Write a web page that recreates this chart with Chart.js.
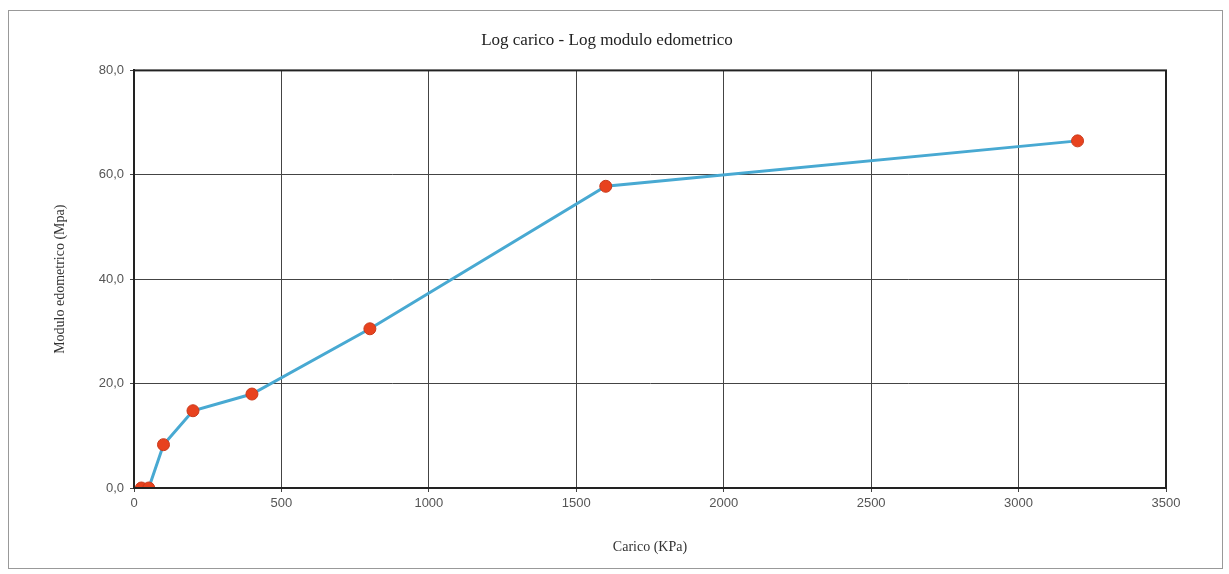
<!DOCTYPE html>
<html>
<head>
<meta charset="utf-8">
<script src="https://cdn.jsdelivr.net/npm/chart.js@4/dist/chart.umd.min.js"></script>
<style>
  body { margin: 0; background: #fff; }
  .frame { position: absolute; left: 8px; top: 10px; width: 1213px; height: 557px; border: 1px solid #999; }
  .wrap { position: absolute; left: 0; top: 0; width: 1229px; height: 574px; }
</style>
</head>
<body>
<div class="frame"></div>
<div class="wrap"><canvas id="chart"></canvas></div>
<script>
// carico (KPa) and modulo edometrico (Mpa)
const carico = [25, 50, 100, 200, 400, 800, 1600, 3200]
const modulo = [0, 0, 8.3, 14.8, 18.0, 30.5, 57.8, 66.5]

const xMin = 0, xMax = 3500, xStep = 500
const yMin = 0, yMax = 80, yStep = 20

const points = carico.map((c, i) => ({ x: c, y: modulo[i] }))

const serif = 'Liberation Serif'
const tickFont = { family: 'Liberation Sans', size: 13 }

let ctx = document.getElementById('chart').getContext('2d')

new Chart(ctx, {
  type: 'scatter',
  data: {
    datasets: [{
      data: points,
      showLine: true,
      borderColor: '#48a9d2',
      borderWidth: 3,
      pointBackgroundColor: '#e8421e',
      pointBorderColor: '#c93a1c',
      pointBorderWidth: 1,
      pointRadius: 6,
      tension: 0
    }]
  },
  options: {
    responsive: true,
    maintainAspectRatio: false,
    animation: false,
    layout: {
      padding: { top: 25, left: 48, right: 63, bottom: 14 }
    },
    plugins: {
      legend: { display: false },
      tooltip: { enabled: false },
      title: {
        display: true,
        text: 'Log carico - Log modulo edometrico',
        color: '#222',
        font: { family: serif, size: 17, weight: 'normal' },
        padding: { top: 5, bottom: 20 }
      }
    },
    scales: {
      x: {
        type: 'linear',
        min: xMin, max: xMax,
        ticks: { stepSize: xStep, color: '#555', font: tickFont, padding: 4,
          callback: v => String(v) },
        grid: { color: '#444', lineWidth: 1, tickLength: 4 },
        border: { color: '#222', width: 2 },
        title: {
          display: true,
          text: 'Carico (KPa)',
          color: '#333',
          font: { family: serif, size: 14 },
          padding: { top: 18 }
        },
        afterFit: s => { s.height = 72 }
      },
      y: {
        min: yMin, max: yMax,
        ticks: {
          stepSize: yStep, color: '#555', font: tickFont, padding: 6,
          callback: v => v.toFixed(1).replace('.', ',')
        },
        grid: { color: '#444', lineWidth: 1, tickLength: 4 },
        border: { color: '#222', width: 2 },
        title: {
          display: true,
          text: 'Modulo edometrico (Mpa)',
          color: '#333',
          font: { family: serif, size: 14 },
          padding: { bottom: 12 }
        },
        afterFit: s => { s.width = 86 }
      }
    }
  },
  plugins: [{
    id: 'frameBox',
    afterDraw(chart) {
      const a = chart.chartArea, c = chart.ctx
      c.save()
      c.strokeStyle = '#222'
      c.lineWidth = 2
      c.strokeRect(a.left, a.top, a.right - a.left, a.bottom - a.top)
      c.restore()
    }
  }]
})
</script>
</body>
</html>
